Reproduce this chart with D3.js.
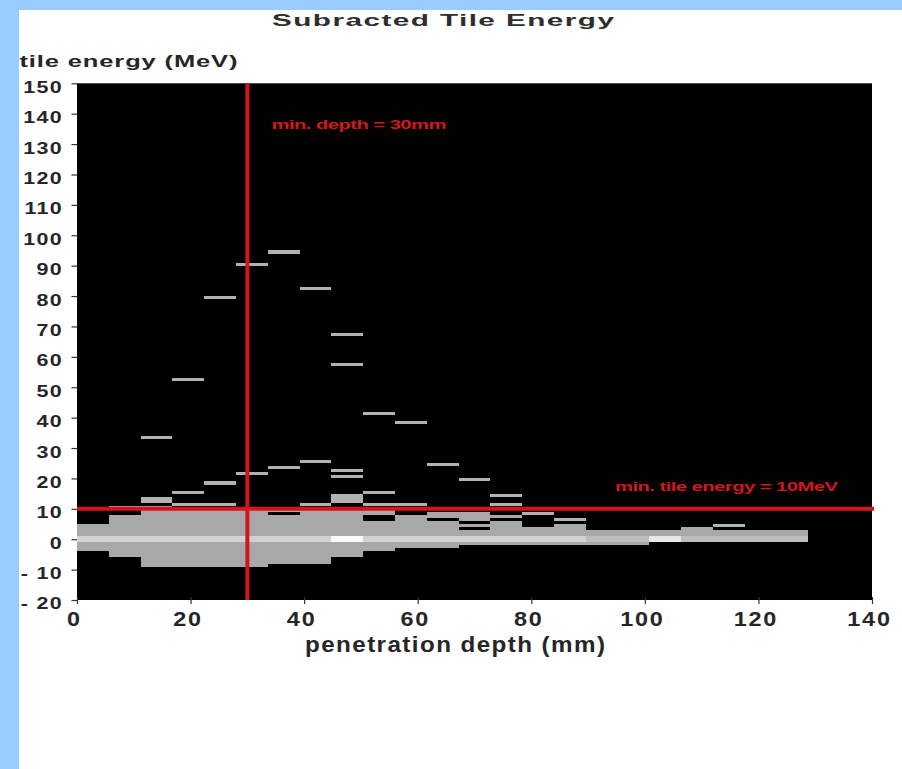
<!DOCTYPE html>
<html>
<head>
<meta charset="utf-8">
<script src="https://cdn.jsdelivr.net/npm/d3@7"></script>
<style>
  html, body { margin: 0; padding: 0; background: #99ccff; }
  svg { display: block; }
  text { font-family: "Liberation Sans", Arial, sans-serif; }
</style>
</head>
<body>
<svg id="chart" width="902" height="769"></svg>
<script>
// ---------------- data ----------------
const titleText = "Subracted Tile Energy";
const yLabelText = "tile energy (MeV)";
const xLabelText = "penetration depth (mm)";
const depthCutText = "min. depth = 30mm";
const energyCutText = "min. tile energy = 10MeV";

const depthDomain = [0, 140];     // mm
const energyDomain = [-20, 150];  // MeV
const depthBinWidth = 5.6;        // mm per histogram column
const xTickValues = [0, 20, 40, 60, 80, 100, 120, 140];
const yTickValues = [-20, -10, 0, 10, 20, 30, 40, 50, 60, 70, 80, 90, 100, 110, 120, 130, 140, 150];
const depthCut = 30;   // mm
const energyCut = 10;  // MeV

// dense (filled) part of each depth column: [column, energyLow, energyHigh]
const bodySegments = [
  [0, -4, 5],
  [1, -6, 8], [1, 10, 11],
  [2, -9, 11],
  [3, -9, 10],
  [4, -9, 10],
  [5, -9, 10],
  [6, -8, 8], [6, 9, 10],
  [7, -8, 10],
  [8, -6, 10],
  [9, -4, 6], [9, 8, 10],
  [10, -3, 8],
  [11, -3, 6], [11, 7, 9],
  [12, -2, 3], [12, 4, 5], [12, 6, 9],
  [13, -2, 6], [13, 7, 8],
  [14, -2, 4],
  [15, -2, 5],
  [16, -2, 3],
  [17, -2, 3],
  [18, -1, 3],
  [19, -1, 4],
  [20, -1, 3],
  [21, -1, 3],
  [22, -1, 3]
];

// isolated occupied cells: [column, energyLow, energyHigh]
const sparseCells = [
  [2, 33, 34], [2, 12, 14],
  [3, 52, 53], [3, 15, 16], [3, 11, 12],
  [4, 79, 80], [4, 18, 19], [4, 11, 12],
  [5, 90, 91], [5, 21, 22],
  [6, 94, 95], [6, 23, 24],
  [7, 82, 83], [7, 25, 26], [7, 11, 12],
  [8, 67, 68], [8, 57, 58], [8, 22, 23], [8, 20, 21], [8, 12, 15],
  [9, 41, 42], [9, 15, 16], [9, 11, 12],
  [10, 38, 39], [10, 11, 12],
  [11, 24, 25],
  [12, 19, 20],
  [13, 14, 15], [13, 11, 12],
  [14, 8, 9],
  [15, 6, 7],
  [20, 4, 5]
];

// relative population of the core row (-1..1 MeV) per column
const coreRange = [-1, 1];
const coreLevels = [3, 3, 3, 3, 3, 3, 3, 3, 5, 3, 3, 3, 3, 3, 3, 3, 2, 2, 4, 2, 2, 2, 2];

// ---------------- drawing ----------------
const svg = d3.select("#chart");

svg.append("rect").attr("x", 19).attr("y", 10).attr("width", 902 - 19).attr("height", 769 - 10)
  .attr("fill", "#ffffff");

const plot = { left: 77, right: 872, top: 83.3, bottom: 600 };
const x = d3.scaleLinear().domain(depthDomain).range([plot.left, plot.right]);
const y = d3.scaleLinear().domain(energyDomain).range([plot.bottom, plot.top]);

svg.append("rect")
  .attr("x", plot.left).attr("y", plot.top)
  .attr("width", plot.right - plot.left).attr("height", plot.bottom - plot.top)
  .attr("fill", "#000000");

const bodyColor = "#a8a8a8";
const sparseColor = "#b2b2b2";
const coreColor = d3.scaleLinear().domain([2, 5]).range(["#bdbdbd", "#fbfbfb"]);

function cellRect(sel, fill) {
  sel.attr("x", d => x(d[0] * depthBinWidth))
     .attr("width", d => x((d[0] + 1) * depthBinWidth) - x(d[0] * depthBinWidth))
     .attr("y", d => y(d[2]))
     .attr("height", d => y(d[1]) - y(d[2]))
     .attr("fill", fill)
     .attr("shape-rendering", "crispEdges");
}

const cells = svg.append("g");
cells.selectAll("rect.body").data(bodySegments).join("rect").attr("class", "body").call(cellRect, bodyColor);
cells.selectAll("rect.core").data(coreLevels.map((lv, i) => [i, coreRange[0], coreRange[1], lv]))
  .join("rect").attr("class", "core").call(cellRect, d => coreColor(d[3]));
cells.selectAll("rect.sparse").data(sparseCells).join("rect").attr("class", "sparse").call(cellRect, sparseColor);

// cut lines
const red = "#d3141e";
svg.append("line")
  .attr("x1", x(depthCut)).attr("x2", x(depthCut))
  .attr("y1", plot.top).attr("y2", plot.bottom)
  .attr("stroke", red).attr("stroke-width", 4);
svg.append("line")
  .attr("x1", plot.left).attr("x2", plot.right + 2)
  .attr("y1", y(energyCut)).attr("y2", y(energyCut))
  .attr("stroke", red).attr("stroke-width", 4);

// stretched text helper
function stretchText(str, left, baseline, size, width, sx, fill, weight) {
  const g = svg.append("g").attr("transform", `translate(${left},${baseline}) scale(${sx},1)`);
  g.append("text")
    .attr("x", 0).attr("y", 0)
    .attr("font-size", size)
    .attr("font-weight", weight || "bold")
    .attr("fill", fill)
    .attr("textLength", width / sx)
    .attr("lengthAdjust", "spacing")
    .text(str);
}

stretchText(depthCutText, 271.5, 129, 13.5, 175, 1.5, "#cf1a1a", "bold");
stretchText(energyCutText, 615, 490.5, 13.5, 223, 1.5, "#cf1a1a", "bold");

// axes
const textColor = "#262626";
const yAxis = d3.axisLeft(y).tickValues(yTickValues).tickSize(5.5).tickSizeOuter(0)
  .tickFormat(v => v < 0 ? "- " + Math.abs(v) : String(v));
const gy = svg.append("g").attr("transform", `translate(${plot.left},0)`).call(yAxis);
gy.select(".domain").remove();
gy.selectAll(".tick line").attr("stroke", "#333").attr("stroke-width", 1.2);
gy.selectAll(".tick text")
  .attr("font-size", 16.5).attr("font-weight", "bold").attr("fill", textColor)
  .attr("font-family", "'Liberation Sans', Arial, sans-serif")
  .attr("letter-spacing", 1)
  .attr("x", -14 / 1.3).attr("y", 3.2).attr("dy", "0.35em")
  .attr("transform", "scale(1.3,1)");

const xAxis = d3.axisBottom(x).tickValues(xTickValues).tickSize(4).tickSizeOuter(0);
const gx = svg.append("g").attr("transform", `translate(0,${plot.bottom})`).call(xAxis);
gx.select(".domain").remove();
gx.selectAll(".tick line").attr("stroke", "#333").attr("stroke-width", 1.2).attr("y1", -3);
gx.selectAll(".tick text")
  .attr("font-size", 19.5).attr("font-weight", "bold").attr("fill", textColor)
  .attr("font-family", "'Liberation Sans', Arial, sans-serif")
  .attr("letter-spacing", 1.5)
  .attr("x", -3 / 1.2).attr("y", 26.5).attr("dy", 0)
  .attr("transform", "scale(1.2,1)");

// titles
stretchText(titleText, 272, 25.5, 17, 342, 1.75, "#2e2e2e", "bold");
stretchText(yLabelText, 19.5, 66.5, 17, 218, 1.5, textColor, "bold");
stretchText(xLabelText, 305, 651.5, 22, 300, 1.1, textColor, "bold");
</script>
</body>
</html>
